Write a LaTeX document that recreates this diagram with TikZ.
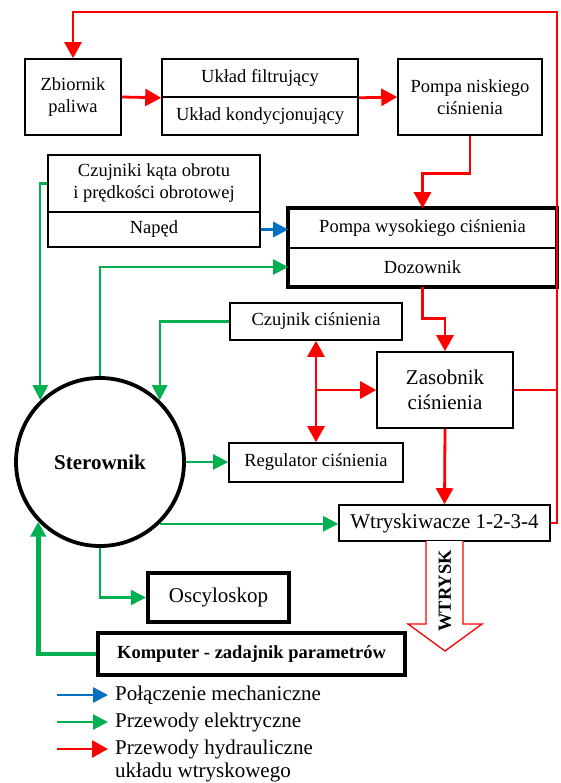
\documentclass[tikz,border=0pt]{standalone}
\usepackage{fontspec}
\setmainfont{Liberation Serif}
\usetikzlibrary{arrows.meta}
\definecolor{elgreen}{RGB}{0,176,80}
\definecolor{mechblue}{RGB}{0,112,192}
\definecolor{hydred}{RGB}{255,0,0}

\begin{document}
\begin{tikzpicture}[x=1pt, y=-1pt,
    box/.style={draw, line width=1.6pt, inner sep=1pt, align=center, font=\fontsize{18.5}{22}\selectfont},
    bigbox/.style={box, font=\fontsize{21}{25}\selectfont},
    hyd/.style={hydred, line width=2.8pt, >={Triangle[length=16pt,width=17pt]}, ->},
    el/.style={elgreen, line width=2.2pt, >={Triangle[length=15pt,width=15pt]}, ->},
    mech/.style={mechblue, line width=2.8pt, >={Triangle[length=15pt,width=15pt]}, ->},
    legend/.style={anchor=west, inner sep=0pt, font=\fontsize{21}{23}\selectfont}]
    \useasboundingbox (0,0) rectangle (560,783);

    % Fuel supply
    \node[box, minimum width=96, minimum height=76] (zb) at (73,97) {Zbiornik\\paliwa};
    \node[box, minimum width=196, minimum height=38] (filtr) at (260,78) {Układ filtrujący};
    \node[box, minimum width=196, minimum height=38] (kond) at (260,116) {Układ kondycjonujący};
    \node[box, minimum width=144, minimum height=76] (pn) at (470,97) {Pompa niskiego\\ciśnienia};

    % Drive and high pressure pump
    \node[box, minimum width=212, minimum height=57] (czk) at (154,183.5) {Czujniki kąta obrotu\\i prędkości obrotowej};
    \node[box, minimum width=212, minimum height=35] (naped) at (154,229.5) {Napęd};
    \node[box, minimum width=267, minimum height=39] (pw) at (422.5,228.5) {Pompa wysokiego ciśnienia};
    \node[box, minimum width=267, minimum height=38] (doz) at (422.5,267) {Dozownik};
    \draw[line width=3.8pt] (pw.north west) rectangle (doz.south east);

    % Rail
    \node[box, minimum width=172, minimum height=37] (cc) at (316,321.5) {Czujnik ciśnienia};
    \node[bigbox, minimum width=136, minimum height=76] (zas) at (445,390) {Zasobnik\\ciśnienia};
    \node[box, minimum width=174, minimum height=39] (reg) at (316,462.5) {Regulator ciśnienia};
    \node[bigbox, minimum width=211, minimum height=36] (wtr) at (444.5,523) {Wtryskiwacze 1-2-3-4};

    % Control
    \node[circle, draw, line width=3.8pt, minimum size=168, inner sep=0pt,
          font=\bfseries\fontsize{21}{25}\selectfont] (ster) at (100,462) {Sterownik};
    \node[bigbox, line width=4.2pt, minimum width=141, minimum height=49] (osc) at (218.5,597.5) {Oscyloskop};
    \node[box, line width=4.6pt, minimum width=307, minimum height=42,
          font=\bfseries\fontsize{18.5}{22}\selectfont] (komp) at (251.5,654) {Komputer - zadajnik parametrów};

    % Hydraulic lines
    \coordinate (ret) at (557,12);
    \draw[hyd] (wtr.east) -| (ret) -| (zb.north);
    \draw[hydred, line width=2.8pt] (zas.east) -- (zas.east -| ret);
    \draw[hyd] (zb.east) -- (filtr.south west);
    \draw[hyd] (filtr.south east) -- (pn.west);
    \draw[hyd] (pn.south) -- ++(0,38) -| (pw.north);
    \draw[hyd] (doz.south) -- ++(0,32) -| (zas.north);
    \draw[hyd] (zas.south) -- (wtr.north);
    \draw[hyd, <->] (cc.south) -- (reg.north);
    \draw[hyd] (cc.south |- zas.west) -- (zas.west);

    % Mechanical link
    \draw[mech] (naped.east) -- (naped.east -| pw.west);

    % Electrical lines
    \draw[el] (czk.west) -| (ster.134);
    \draw[el] (ster.north) |- (doz.west);
    \draw[el] (cc.west) -| (ster.46);
    \draw[el] (ster.east) -- (ster.east -| reg.west);
    \draw[el] (ster.-46) -- (ster.-46 -| wtr.west);
    \draw[el] (ster.south) |- (osc.west);
    \draw[el, line width=4.6pt] (komp.west) -| (ster.-136);

    % Injection
    \draw[hydred, line width=1.3pt, fill=white] (426,541) -- (426,624) -- (408,624) -- (445,651)
        -- (482,624) -- (463,624) -- (463,541);
    \node[rotate=90, font=\bfseries\fontsize{18.5}{22}\selectfont] (wtrysk) at (445,591) {WTRYSK};

    % Legend
    \node[legend] (lgmech) at (115,695) {Połączenie mechaniczne};
    \node[legend] (lgel) at (115,722) {Przewody elektryczne};
    \node[legend] (lghyd) at (115,749) {Przewody hydrauliczne};
    \node[legend] (lghydb) at (115,772) {układu wtryskowego};
    \draw[mech] ([xshift=-58pt]lgmech.west) -- ([xshift=-7pt]lgmech.west);
    \draw[el] ([xshift=-58pt]lgel.west) -- ([xshift=-7pt]lgel.west);
    \draw[hyd] ([xshift=-58pt]lghyd.west) -- ([xshift=-7pt]lghyd.west);
\end{tikzpicture}
\end{document}
